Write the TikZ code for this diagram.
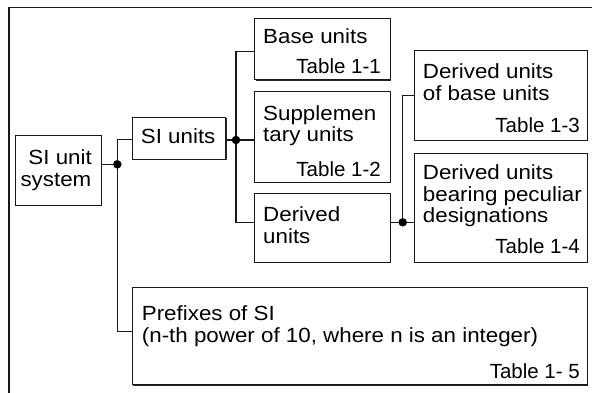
\documentclass[tikz,border=0pt]{standalone}
\usepackage{fontspec}
\setmainfont{Liberation Sans}
\newfontfamily\widefont[FakeStretch=1.09]{Liberation Sans}
\usetikzlibrary{shadows}
\begin{document}
\begin{tikzpicture}[x=1bp,y=-1bp,
  box/.style={draw=black!90, line width=1.1bp, fill=white, inner sep=0pt, rectangle, anchor=north west,
    drop shadow={shadow xshift=0.9bp, shadow yshift=-0.9bp, fill=black!85, opacity=1}},
  lbl/.style={anchor=base west, inner sep=0pt, font=\widefont\fontsize{20.5bp}{22bp}\selectfont},
  lblr/.style={anchor=base east, inner sep=0pt, font=\widefont\fontsize{20.5bp}{22bp}\selectfont},
  tbl/.style={anchor=base east, inner sep=0pt, font=\fontsize{20.5bp}{22bp}\selectfont},
  conn/.style={draw=black!90, line width=1.1bp},
  dot/.style={circle, fill=black, inner sep=0pt, minimum size=8.5bp}]
\clip (0,0) rectangle (592,392);
\fill[white] (0,0) rectangle (592,392);
\draw[black!90, line width=1.6bp] (8.7,400) -- (8.7,7.3) -- (600,7.3);

% boxes
\node[box, minimum width=86bp, minimum height=70bp] (sys) at (14.7,134.7) {};
\node[box, minimum width=93.3bp, minimum height=42.3bp] (siu) at (132,116.7) {};
\node[box, minimum width=135.7bp, minimum height=61bp] (base) at (254.3,18.3) {};
\node[box, minimum width=135.7bp, minimum height=90.7bp] (supp) at (254.3,91) {};
\node[box, minimum width=135.7bp, minimum height=69bp] (der) at (254.3,192.7) {};
\node[box, minimum width=173bp, minimum height=89.7bp] (dbase) at (413.7,50.3) {};
\node[box, minimum width=173bp, minimum height=108.4bp] (dpec) at (413.7,153.3) {};
\node[box, minimum width=455bp, minimum height=97bp] (pref) at (132,287.3) {};

% texts
\node[lblr] (t1) at (92,164.3) {SI unit};
\node[lblr] (t2) at (91.5,186.5) {system};
\node[lbl] (t3) at (140.7,143.3) {SI units};
\node[lbl] (t4) at (263,43.3) {Base units};
\node[tbl] (t5) at (381,73.3) {Table 1-1};
\node[lbl] (t6) at (263,120) {Supplemen};
\node[lbl] (t7) at (263,141.5) {tary units};
\node[tbl] (t8) at (381,176.7) {Table 1-2};
\node[lbl] (t9) at (263,221.7) {Derived};
\node[lbl] (t10) at (263,243.3) {units};
\node[lbl] (t11) at (422.7,78.3) {Derived units};
\node[lbl] (t12) at (422.7,100) {of base units};
\node[tbl] (t13) at (580,132.7) {Table 1-3};
\node[lbl] (t14) at (422.7,179.3) {Derived units};
\node[lbl] (t15) at (422.7,201.5) {bearing peculiar};
\node[lbl] (t16) at (422.7,222.7) {designations};
\node[tbl] (t17) at (580,253.3) {Table 1-4};
\node[lbl] (t18) at (141.7,320) {Prefixes of SI};
\node[lbl] (t19) at (141.7,342) {(n-th power of 10, where n is an integer)};
\node[tbl] (t20) at (580,378.3) {Table 1- 5};

% junctions
\coordinate (j1) at (117.3,164.3);
\coordinate (j2) at (236,140);
\coordinate (j3) at (402.7,222.3);

\draw[conn] (j1 -| sys.east) -- (j1);
\draw[conn] ([yshift=-1.4bp]siu.west) -| (j1) |- ([yshift=4.8bp]pref.west);
\draw[conn] (j2 -| siu.east) -- (j2);
\draw[conn] ([yshift=-1.9bp]base.west) -| (j2) |- (j3 -| der.west);
\draw[conn] (j2) -- (j2 -| supp.west);
\draw[conn] (j3 -| der.east) -- (j3);
\draw[conn] (dbase.west) -| (j3) -- (j3 -| dpec.west);

\node[dot] (d1) at (j1) {};
\node[dot] (d2) at (j2) {};
\node[dot] (d3) at (j3) {};
\end{tikzpicture}
\end{document}
